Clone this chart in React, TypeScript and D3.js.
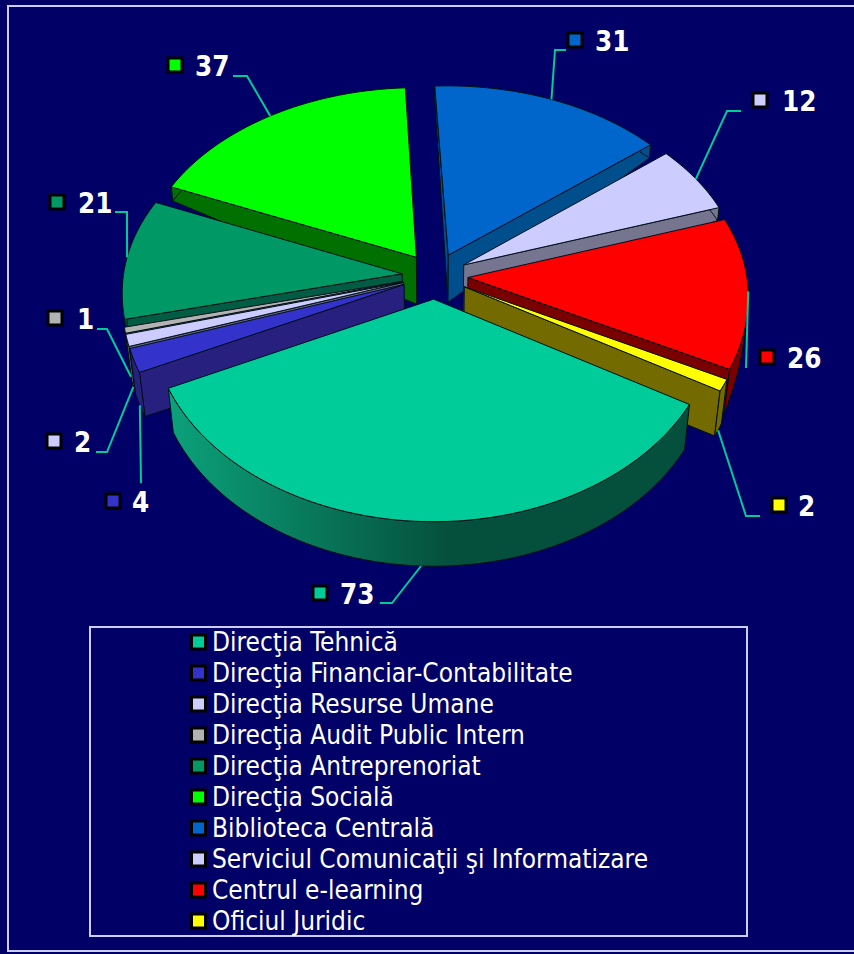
import React from "react";
import * as d3 from "d3";

const categories = [
  "Direcţia Tehnică",
  "Direcţia Financiar-Contabilitate",
  "Direcţia Resurse Umane",
  "Direcţia Audit Public Intern",
  "Direcţia Antreprenoriat",
  "Direcţia Socială",
  "Biblioteca Centrală",
  "Serviciul Comunicaţii şi Informatizare",
  "Centrul e-learning",
  "Oficiul Juridic",
];
const values = [73, 4, 2, 1, 21, 37, 31, 12, 26, 2];
const topColors = ["#00CC99", "#3333CC", "#CCCCFF", "#B2B2B2", "#009966", "#00FF00", "#0066CC", "#CCCCFF", "#FF0000", "#FFFF00"];
const wallColors = ["#05503C", "#27207F", "#66667F", "#666660", "#005C42", "#007000", "#004E8C", "#75758F", "#7A0000", "#736B00"];

// label layout, same order as categories: marker centre, text x, leader elbow points
const markerPos = [[320, 593], [113, 501], [54, 441], [55, 318], [57, 202], [175, 65], [575, 40], [760, 100], [767, 357], [779, 505]];
const labelX = [340, 132, 74, 77, 78, 195, 595, 782, 787, 798];
const leaderBends = [
  [[392, 603], [380, 603]],
  [[141, 483]],
  [[107, 452], [96, 452]],
  [[107, 329], [97, 329]],
  [[127, 212], [115, 212]],
  [[247, 76], [233, 76]],
  [[555, 50], [566, 50]],
  [[727, 111], [741, 111]],
  [[746, 368]],
  [[746, 516], [760, 516]],
];
// share of the wall height where the leader leaves the slice
const leaderDrop = [1, 1, 1, 1, 0, 0, 0, 0, 0, 1];

const width = 854;
const height = 954;
const cx = 435;
const cy = 276;
const radius = 279;
const explode = 33;
const tilt = 0.695;
const persp = 0.0003;
const rimShift = 6.5;
const tipHeight = 47;

const rad = (deg: number) => (deg * Math.PI) / 180;

const project = (angle: number, r: number, mid: number) => {
  const x = r * Math.sin(angle) + explode * Math.sin(mid);
  const y = -r * Math.cos(angle) - explode * Math.cos(mid);
  const s = 1 / (1 - persp * y);
  const shift = rimShift * (r / radius) * (0.15 + 0.85 * Math.abs(Math.cos(angle)));
  return [cx + x * s, cy + tilt * y * s + shift];
};

// wall height on the rim, by angle in degrees: tall at the front, short at the back
const rimHeight = d3
  .scaleLinear()
  .domain([0, 72, 100, 117, 246, 256, 285, 360])
  .range([14, 13, 22, 45, 44, 47, 14, 14])
  .clamp(true);

const norm = (a: number) => ((a % (2 * Math.PI)) + 2 * Math.PI) % (2 * Math.PI);
const heightAt = (angle: number) => rimHeight((norm(angle) * 180) / Math.PI);

const pieGen = d3
  .pie<number>()
  .sort(null)
  .startAngle(rad(119.5))
  .endAngle(rad(119.5 + 360));
const slices = pieGen(values);

const line = d3.line<number[]>().x((d) => d[0]).y((d) => d[1]);

const arcAngles = (a0: number, a1: number) => {
  const n = Math.max(2, Math.ceil(((a1 - a0) * 180) / Math.PI));
  return d3.range(n + 1).map((i) => a0 + ((a1 - a0) * i) / n);
};

// the lower edge sits a little closer to the centre line than the upper one
const down = (p: number[], h: number) => [cx + (p[0] - cx) * (1 - (0.02 * h) / tipHeight), p[1] + h];

const radialWall = (angle: number, mid: number) => {
  const tip = project(0, 0, mid);
  const rim = project(angle, radius, mid);
  return line([tip, rim, down(rim, heightAt(angle)), down(tip, tipHeight)]) + "Z";
};

const rimWall = (a0: number, a1: number, mid: number) => {
  const angles = arcAngles(a0, a1);
  const upper = angles.map((a) => project(a, radius, mid));
  const lower = angles.map((a) => down(project(a, radius, mid), heightAt(a))).reverse();
  return line([...upper, ...lower]) + "Z";
};

const topFace = (a0: number, a1: number, mid: number) => {
  const pts = arcAngles(a0, a1).map((a) => project(a, radius, mid));
  return line([project(0, 0, mid), ...pts]) + "Z";
};

const order = slices
  .map((_, i) => i)
  .sort((a, b) => {
    const m = (s: d3.PieArcDatum<number>) => (s.startAngle + s.endAngle) / 2;
    return -Math.cos(m(slices[a])) - -Math.cos(m(slices[b]));
  });

const legendY = d3.scalePoint<number>().domain(d3.range(categories.length)).range([642, 921]);

const Marker = ({ x, y, fill }: { x: number; y: number; fill: string }) => (
  <rect x={x - 7} y={y - 7} width={14} height={14} fill={fill} stroke="#000" strokeWidth={3} />
);

export default function App() {
  return (
    <svg
      width={width}
      height={height}
      style={{ position: "absolute", left: 0, top: 0, display: "block" }}
      fontFamily="'DejaVu Sans', sans-serif"
    >
      <defs>
        <linearGradient id="frontWall" gradientUnits="userSpaceOnUse" x1={170} y1={0} x2={450} y2={0}>
          <stop offset="0" stopColor="#0BA17A" />
          <stop offset="1" stopColor="#05503C" />
        </linearGradient>
      </defs>
      <rect width={width} height={height} fill="#000066" />
      {/* the frame runs off the right edge of the picture */}
      <rect x={8} y={6} width={860} height={945} fill="none" stroke="#CCCCFF" strokeWidth={2} />

      {order.map((i) => {
        const s = slices[i];
        const mid = (s.startAngle + s.endAngle) / 2;
        const startVisible = Math.sin(s.startAngle) < 0;
        const endVisible = Math.sin(s.endAngle) > 0;
        const rimFill = i === 0 ? "url(#frontWall)" : wallColors[i];
        return (
          <g key={i} stroke="#001018" strokeWidth={1} strokeLinejoin="round">
            {startVisible && <path d={radialWall(s.startAngle, mid)} fill={wallColors[i]} />}
            {endVisible && <path d={radialWall(s.endAngle, mid)} fill={wallColors[i]} />}
            <path d={rimWall(s.startAngle, s.endAngle, mid)} fill={rimFill} />
            <path d={topFace(s.startAngle, s.endAngle, mid)} fill={topColors[i]} />
          </g>
        );
      })}

      {slices.map((s, i) => {
        const mid = (s.startAngle + s.endAngle) / 2;
        const from = down(project(mid, radius, mid), heightAt(mid) * leaderDrop[i]);
        return (
          <path
            key={i}
            d={line([from, ...leaderBends[i]]) ?? ""}
            fill="none"
            stroke="#00CC99"
            strokeWidth={2}
          />
        );
      })}

      {values.map((v, i) => (
        <g key={i}>
          <Marker x={markerPos[i][0]} y={markerPos[i][1]} fill={topColors[i]} />
          <text
            x={labelX[i]}
            y={markerPos[i][1] + 1}
            dy="0.36em"
            fill="#fff"
            fontSize={27.5}
            fontWeight="bold"
            style={{ fontStretch: "condensed" }}
          >
            {v}
          </text>
        </g>
      ))}

      <rect x={90} y={627} width={657} height={309} fill="none" stroke="#CCCCFF" strokeWidth={2} />
      {categories.map((c, i) => (
        <g key={c}>
          <Marker x={198.5} y={legendY(i) ?? 0} fill={topColors[i]} />
          <text
            x={212}
            y={legendY(i) ?? 0}
            dy="0.36em"
            fill="#fff"
            fontSize={26}
            style={{ fontStretch: "condensed" }}
          >
            {c}
          </text>
        </g>
      ))}
    </svg>
  );
}
